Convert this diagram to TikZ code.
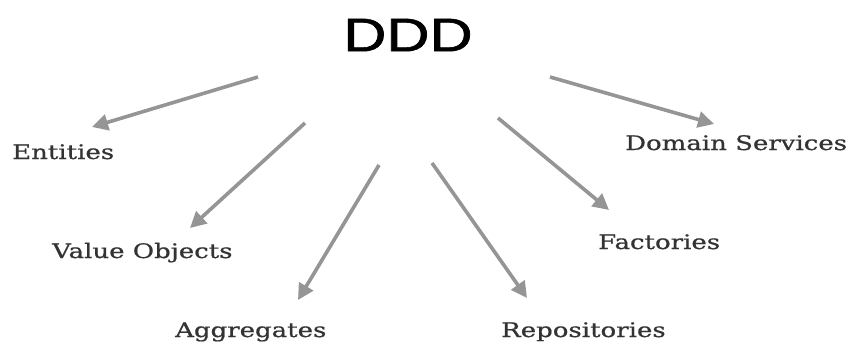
\documentclass[tikz,border=0pt]{standalone}
\usepackage{fontspec}
\setmainfont{DejaVu Serif}[FakeStretch=1.3,FakeBold=0.8]
\newfontfamily\titlefont{Liberation Sans}[FakeBold=1.2]
\usetikzlibrary{arrows.meta}
\definecolor{arrowgray}{HTML}{959595}
\definecolor{labelgray}{HTML}{333333}
\begin{document}
\begin{tikzpicture}[x=1pt,y=-1pt,
  concept/.style={anchor=base west,inner sep=0pt,text=labelgray,font=\fontsize{20}{20}\selectfont},
  link/.style={draw=arrowgray,line width=3.6pt,
    -{Triangle[length=16pt,width=16pt,fill=arrowgray]}}]
  \useasboundingbox[fill=white] (0,0) rectangle (853,342);
  % title
  \node[inner sep=0pt,font=\titlefont\fontsize{47}{47}\selectfont] (ddd) at (408,35) {\scalebox{1.27}[1]{DDD}};
  % concept labels (placed by baseline)
  \node[concept] (ent) at (12,159) {Entities};
  \node[concept] (vo)  at (52,258) {Value Objects};
  \node[concept] (agg) at (175,337) {Aggregates};
  \node[concept] (rep) at (501,337) {Repositories};
  \node[concept] (fac) at (598,249) {Factories};
  \node[concept] (ds)  at (625,150) {Domain Services};
  % arrow ends
  \coordinate (s1) at (258,77);  \coordinate (t1) at (92,127);
  \coordinate (s2) at (305,123); \coordinate (t2) at (190,228);
  \coordinate (s3) at (379,165); \coordinate (t3) at (298,300);
  \coordinate (s4) at (432,163); \coordinate (t4) at (527,298);
  \coordinate (s5) at (498,118); \coordinate (t5) at (609,210);
  \coordinate (s6) at (550,77);  \coordinate (t6) at (714,124);
  \foreach \i in {1,...,6} \draw[link] (s\i) -- (t\i);
\end{tikzpicture}
\end{document}
